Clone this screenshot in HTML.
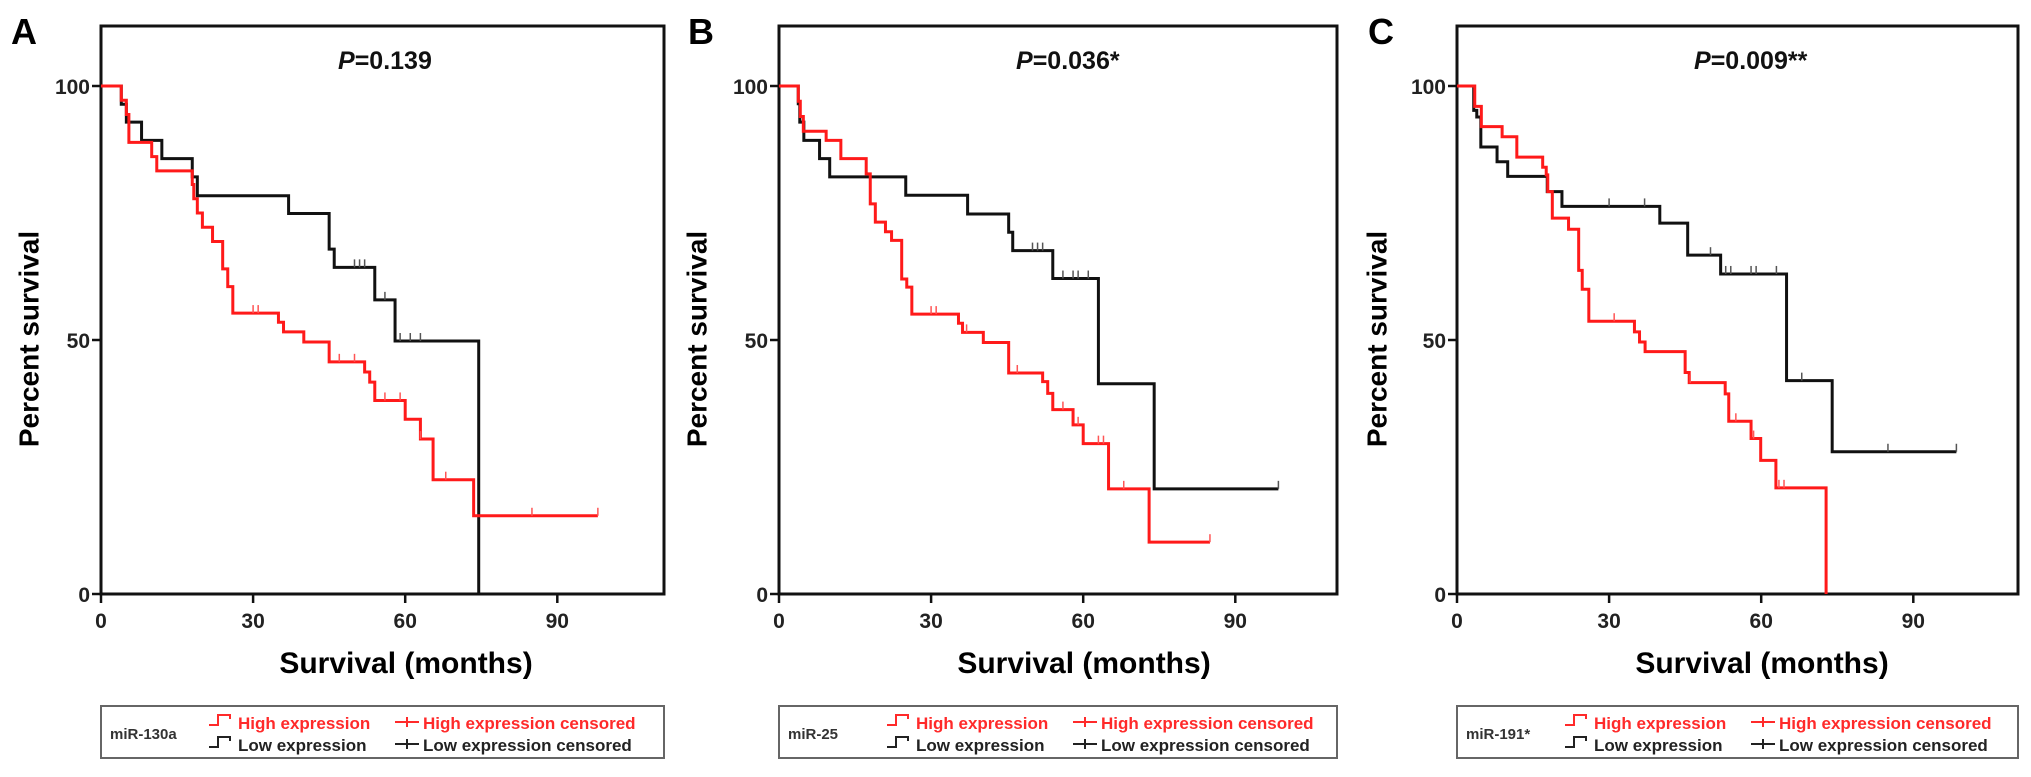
<!DOCTYPE html>
<html><head><meta charset="utf-8"><style>
html,body{margin:0;padding:0;background:#fff;}
svg{display:block;font-family:"Liberation Sans",Arial,sans-serif;}
</style></head><body>
<svg id="fig" width="2031" height="777" viewBox="0 0 2031 777" xmlns="http://www.w3.org/2000/svg"></svg>
<script>
// Panel A data (miR-130a)
const aHighT=[0,4,5,5.5,10,11,18,18.3,19,20,22,24,25,26,35,36,40,45,52,53,54,60,63,65.5,73.5,98];
const aHighS=[100,97.2,94.4,88.9,86.1,83.3,80.6,77.8,75,72.2,69.4,64,60.5,55.3,53.5,51.6,49.6,45.7,43.7,41.7,38.1,34.4,30.5,22.5,15.4,15.4];
const aHighC=[30,31,47,50,56,59,63,68,85,98];
const aLowT=[0,4,5,8,12,18,19,37,45,46,54,58,74.5];
const aLowS=[100,96.4,92.9,89.3,85.7,82.1,78.4,74.9,67.9,64.3,57.9,49.8,0];
const aLowC=[50,51,52,56,59,61,63];
// Panel B data (miR-25)
const bHighT=[0,3.8,4.2,4.8,9.3,12.2,17.2,18,19,21,22.2,24.2,25.2,26.2,35.4,36.2,40.3,45.3,52,53,54,58,60,65,73,85];
const bHighS=[100,97,94,91.1,89.3,85.7,82.7,76.8,73.2,71.3,69.6,62,60.4,55.1,53.3,51.5,49.5,43.5,41.8,39.5,36.3,33.3,29.6,20.7,10.2,10.2];
const bHighC=[30,31,37,47,56,59,63,64,68,85];
const bLowT=[0,3.8,4.1,4.9,8,10,25,37.2,45.3,46.1,54,63,74,98.5];
const bLowS=[100,96.5,92.9,89.3,85.7,82.1,78.5,74.8,71.2,67.6,62.1,41.4,20.7,20.7];
const bLowC=[50,51,52,56,58,59,61,98.5];
// Panel C data (miR-191*)
const cHighT=[0,3.5,4.8,8.9,11.8,16.9,17.6,17.9,18.8,22,24,24.7,26,35,36,37.1,45,45.8,52.9,53.6,58,59.9,62.9,72.8];
const cHighS=[100,96,92,90,86,84,82.5,79.2,74,71.8,63.7,60,53.7,51.6,49.6,47.7,43.6,41.6,39.4,34,30.6,26.3,20.9,0];
const cHighC=[31,46,55,58.5,63.5,64.5];
const cLowT=[0,3.3,3.9,4.7,7.9,10,17.8,20.7,40,45.5,52,65,74,98.5];
const cLowS=[100,95.2,93.9,88,85.1,82.2,79.2,76.3,73,66.7,63,42,28,28];
const cLowC=[30,37,50,53,54,58,59,63,68,85,98.5];
const xTicks=[0,30,60,90];
const yTicks=[0,50,100];

const NS="http://www.w3.org/2000/svg";
const fig=document.getElementById('fig');
function mk(tag,attrs,parent,text){const e=document.createElementNS(NS,tag);for(const k in attrs)e.setAttribute(k,attrs[k]);if(text!==undefined)e.textContent=text;(parent||fig).appendChild(e);return e;}

const Y0=594, PXY=5.08, PXX=5.07, TOP=26;
const panels=[
 {letter:'A',lx:11,ax:101,right:664,p:'0.139',mir:'miR-130a',hT:aHighT,hS:aHighS,hC:aHighC,lT:aLowT,lS:aLowS,lC:aLowC,ytx:29},
 {letter:'B',lx:688,ax:779,right:1337,p:'0.036*',mir:'miR-25',hT:bHighT,hS:bHighS,hC:bHighC,lT:bLowT,lS:bLowS,lC:bLowC,ytx:697},
 {letter:'C',lx:1368,ax:1457,right:2018,p:'0.009**',mir:'miR-191*',hT:cHighT,hS:cHighS,hC:cHighC,lT:cLowT,lS:cLowS,lC:cLowC,ytx:1377}
];

function stepPath(T,S,xs,ys){let d='M'+xs(T[0])+','+ys(S[0]);for(let i=1;i<T.length;i++){d+=' H'+xs(T[i])+' V'+ys(S[i]);}return d;}
function survAt(T,S,t){let s=S[0];for(let i=0;i<T.length;i++){if(T[i]<=t)s=S[i];}return s;}

panels.forEach(P=>{
  const g=mk('g',{});
  
  
  const xs=m=>P.ax+m*PXX, ys=v=>Y0-v*PXY;
  const lt=mk('text',{x:P.lx,y:44,'font-size':36,'font-weight':'bold',fill:'#000'},g,P.letter);
  
  const fr=mk('rect',{x:P.ax,y:TOP,width:P.right-P.ax,height:Y0-TOP,fill:'none',stroke:'#111','stroke-width':3},g);
  
  yTicks.forEach(v=>{
    const t=mk('line',{x1:P.ax-9,x2:P.ax,y1:ys(v),y2:ys(v),stroke:'#111','stroke-width':2.5},g);
    
    const l=mk('text',{x:P.ax-11,y:ys(v)+8,'font-size':21,'font-weight':'bold','text-anchor':'end',fill:'#222'},g,String(v));
    
  });
  xTicks.forEach(v=>{
    const t=mk('line',{x1:xs(v),x2:xs(v),y1:Y0,y2:Y0+9,stroke:'#111','stroke-width':2.5},g);
    
    const l=mk('text',{x:xs(v),y:628,'font-size':21,'font-weight':'bold','text-anchor':'middle',fill:'#222'},g,String(v));
    
  });
  const yt=mk('text',{x:P.ytx,y:339,'font-size':28,'font-weight':'bold','text-anchor':'middle',fill:'#000',transform:'rotate(-90 '+P.ytx+' 339)','dominant-baseline':'central'},g,'Percent survival');
  
  const xt=mk('text',{x:P.ax+305,y:673,'font-size':30,'font-weight':'bold','text-anchor':'middle',fill:'#000'},g,'Survival (months)');
  
  const pt=mk('text',{x:P.ax+237,y:69,'font-size':25,'font-weight':'bold',fill:'#111'},g);
  
  mk('tspan',{'font-style':'italic'},pt,'P');
  mk('tspan',{},pt,'='+P.p);
  const lowLine=mk('path',{d:stepPath(P.lT,P.lS,xs,ys),fill:'none',stroke:'#111','stroke-width':3},g);
  
  const hiLine=mk('path',{d:stepPath(P.hT,P.hS,xs,ys),fill:'none',stroke:'#ff1a1a','stroke-width':3},g);
  
  P.lC.forEach(c=>{const s=survAt(P.lT,P.lS,c);const t=mk('line',{x1:xs(c),x2:xs(c),y1:ys(s),y2:ys(s)-8,stroke:'#555','stroke-width':1.5},g);
    });
  P.hC.forEach(c=>{const s=survAt(P.hT,P.hS,c);const t=mk('line',{x1:xs(c),x2:xs(c),y1:ys(s),y2:ys(s)-8,stroke:'#ff5555','stroke-width':1.5},g);
    });
  const lg=mk('g',{},g);
  
  const L=P.ax;
  mk('rect',{x:L,y:706,width:P.right-L,height:52,fill:'#fff',stroke:'#666','stroke-width':2},lg);
  const mt=mk('text',{x:L+9,y:739,'font-size':15,'font-weight':'bold',fill:'#333'},lg,P.mir);
  
  const rows=[{y:729,c:'#ff2a2a',t:'High expression'},{y:751,c:'#222',t:'Low expression'}];
  rows.forEach(r=>{
    const ic=mk('path',{d:'M'+(L+108)+','+(r.y-4)+' h9 v-10 h12 v4',fill:'none',stroke:r.c,'stroke-width':2},lg);
    
    const tx=mk('text',{x:L+137,y:r.y,'font-size':17,'font-weight':'bold',fill:r.c},lg,r.t);
    
    const ic2=mk('path',{d:'M'+(L+294)+','+(r.y-7)+' h24 M'+(L+306)+','+(r.y-12)+' v10',fill:'none',stroke:r.c,'stroke-width':2},lg);
    
    const tx2=mk('text',{x:L+322,y:r.y,'font-size':17,'font-weight':'bold',fill:r.c},lg,r.t+' censored');
    
  });
});
</script>
</body></html>
